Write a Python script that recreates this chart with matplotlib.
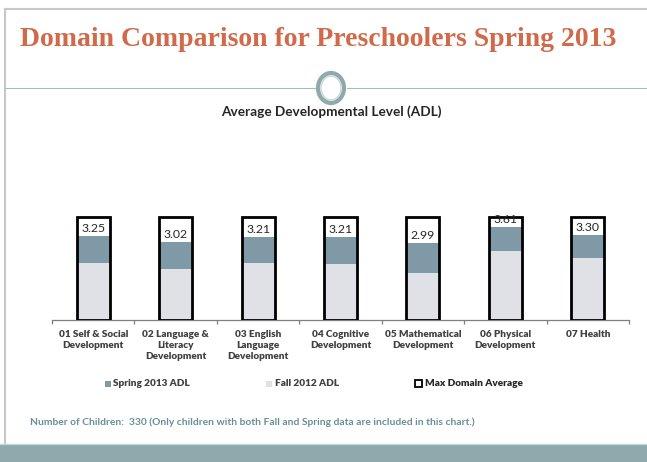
import matplotlib
matplotlib.use("Agg")
import matplotlib.pyplot as plt
from matplotlib.patches import Rectangle, Ellipse
from matplotlib.lines import Line2D

categories = ["01 Self & Social\nDevelopment", "02 Language &\nLiteracy\nDevelopment",
              "03 English\nLanguage\nDevelopment", "04 Cognitive\nDevelopment",
              "05 Mathematical\nDevelopment", "06 Physical\nDevelopment", "07 Health"]
spring_2013 = [3.25, 3.02, 3.21, 3.21, 2.99, 3.61, 3.30]
fall_2012 = [2.20, 1.96, 2.22, 2.15, 1.83, 2.67, 2.39]
max_domain = [4.0, 4.0, 4.0, 4.0, 4.0, 4.0, 4.0]
spring_labels = ["3.25", "3.02", "3.21", "3.21", "2.99", "3.61", "3.30"]

C_DARK = "#7f9aa6"
C_LIGHT = "#dfe1e6"
FONT = "Lato"

W, H = 647, 462
fig = plt.figure(figsize=(W / 100, H / 100), dpi=100)
fig.patch.set_facecolor("white")

def fx(x): return x / W
def fy(y): return 1 - y / H

# slide frame
fig.add_artist(Line2D([fx(5), fx(647)], [fy(9), fy(9)], color="#c8c8c8", lw=1.5))
fig.add_artist(Line2D([fx(5), fx(5)], [fy(9), fy(443)], color="#c8c8c8", lw=1.5))
# separator line with circle
fig.add_artist(Line2D([fx(5), fx(315)], [fy(88), fy(88)], color="#a9b9ba", lw=0.8))
fig.add_artist(Line2D([fx(347), fx(647)], [fy(88), fy(88)], color="#a9b9ba", lw=0.8))
fig.add_artist(Ellipse((fx(331), fy(88)), 26 / W, 30 / H, facecolor="white",
                       edgecolor="#8fa9ab", lw=3.0))
fig.add_artist(Ellipse((fx(331), fy(88)), 20 / W, 24 / H, facecolor="white",
                       edgecolor="#c9d6d6", lw=1.0))
# bottom band
fig.add_artist(Rectangle((0, 0), 1, fy(444), facecolor="#8eaaac", edgecolor="none"))
fig.add_artist(Line2D([0, 1], [fy(444), fy(444)], color="#c5d6d6", lw=1.0))

# title
fig.text(fx(20), fy(40), "Domain Comparison for Preschoolers Spring 2013",
         fontsize=20, fontweight="bold", family="Liberation Serif", color="#d06a4a",
         ha="left", va="center")
fig.text(fx(331), fy(112), "Average Developmental Level (ADL)", fontsize=9.8,
         fontweight="bold", family=FONT, color="#262626", ha="center", va="center")

# chart axes
x0, x1 = 52, 629
ybase = 320
scale = 25.85
ytop = 4.4
ax = fig.add_axes([fx(x0), fy(ybase), (x1 - x0) / W, ytop * scale / H])
ax.set_xlim(-0.5, len(categories) - 0.5)
ax.set_ylim(0, ytop)
ax.patch.set_alpha(0)

pos = list(range(len(categories)))
bw = 0.4
ax.bar(pos, fall_2012, width=bw, color=C_LIGHT, zorder=2)
ax.bar(pos, [s - f for s, f in zip(spring_2013, fall_2012)], bottom=fall_2012,
       width=bw, color=C_DARK, zorder=2)
ax.bar(pos, max_domain, width=bw, facecolor="none", edgecolor="black", lw=2.0, zorder=3)
for p, s, lab in zip(pos, spring_2013, spring_labels):
    ax.text(p, s + 0.06, lab, ha="center", va="bottom", fontsize=8.8, family=FONT,
            color="#262626", zorder=4)

for sp in ["top", "right", "left"]:
    ax.spines[sp].set_visible(False)
ax.spines["bottom"].set_color("#7f7f7f")
ax.spines["bottom"].set_linewidth(0.9)
ax.set_yticks([])
ax.set_xticks([i - 0.5 for i in range(len(categories) + 1)])
ax.set_xticklabels([])
ax.tick_params(axis="x", direction="out", length=3, color="#7f7f7f", width=0.9)
for p, c in zip(pos, categories):
    ax.text(p, -0.38, c, ha="center", va="top", fontsize=7.2, fontweight="heavy",
            family=FONT, color="#404040", linespacing=1.3,
            transform=ax.transData, clip_on=False)

# legend
yl = 384
fig.add_artist(Rectangle((fx(105), fy(yl + 3)), 6 / W, 6 / H, facecolor=C_DARK, edgecolor="none"))
fig.text(fx(113), fy(yl), "Spring 2013 ADL", fontsize=7.2, fontweight="heavy", family=FONT,
         color="#404040", ha="left", va="center")
fig.add_artist(Rectangle((fx(266), fy(yl + 3)), 6 / W, 6 / H, facecolor=C_LIGHT, edgecolor="none"))
fig.text(fx(275), fy(yl), "Fall 2012 ADL", fontsize=7.2, fontweight="heavy", family=FONT,
         color="#404040", ha="left", va="center")
fig.add_artist(Rectangle((fx(415), fy(yl + 3)), 7 / W, 7 / H, facecolor="white",
                         edgecolor="black", lw=1.3))
fig.text(fx(425), fy(yl), "Max Domain Average", fontsize=7.2, fontweight="heavy", family=FONT,
         color="#262626", ha="left", va="center")

fig.text(fx(30), fy(422), "Number of Children:  330 (Only children with both Fall and Spring data are included in this chart.)",
         fontsize=7.4, family=FONT, fontweight="bold", color="#6a8e98", ha="left", va="center")

fig.savefig("out.png", dpi=100)
